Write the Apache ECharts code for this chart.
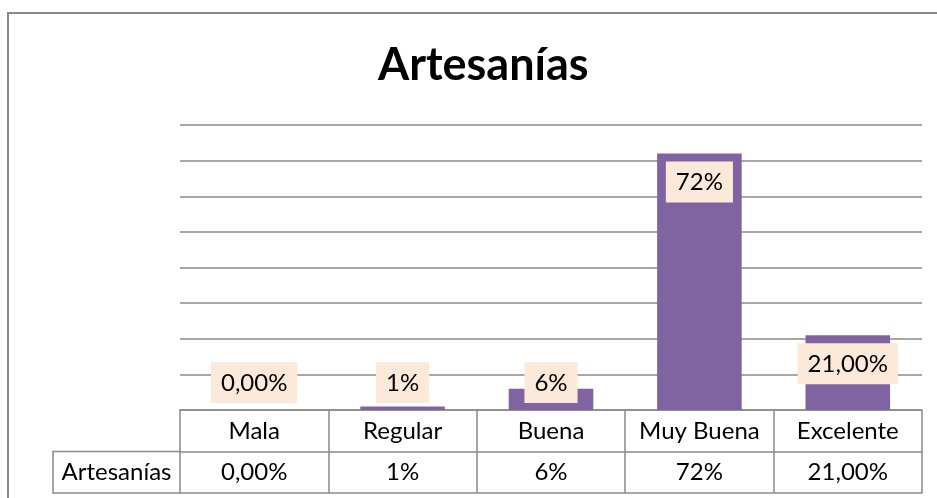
<!DOCTYPE html>
<html>
<head>
<meta charset="utf-8">
<script src="https://cdn.jsdelivr.net/npm/echarts@6/dist/echarts.min.js"></script>
<style>
  html, body { margin: 0; padding: 0; background: #fff; }
  #chart { width: 937px; height: 498px; }
</style>
</head>
<body>
<div id="chart"></div>
<script>
// datos
var categorias = ['Mala', 'Regular', 'Buena', 'Muy Buena', 'Excelente'];
var valores = [0, 1, 6, 72, 21];
var etiquetas = ['0,00%', '1%', '6%', '72%', '21,00%'];
var serieNombre = 'Artesanías';
var yTicks = [0, 10, 20, 30, 40, 50, 60, 70, 80];

var fuente = 'Lato';
var gris = '#8a8a8a';
var gridLeft = 180, gridRight = 15, gridTop = 125, gridBottom = 88;
var filaAlto = 41.5;
var celdaIzq = 53;

var myChart = echarts.init(document.getElementById('chart'), null, { renderer: 'canvas' });

// etiquetas pequeñas van abajo (no caben dentro de la barra)
var datos = valores.map(function (v) {
  var item = { value: v };
  if (v < 16) {
    item.label = { position: 'insideBottom', distance: 7 };
  }
  return item;
});

var baseY = 498 - gridBottom;

var option = {
  backgroundColor: '#fff',
  animation: false,
  title: {
    text: serieNombre,
    left: 373,
    top: 38,
    textStyle: { fontFamily: fuente, fontSize: 45, fontWeight: 'bold', color: '#000' }
  },
  grid: { left: gridLeft, right: gridRight, top: gridTop, bottom: gridBottom },
  xAxis: [
    {
      type: 'category',
      data: categorias,
      position: 'bottom',
      axisLine: { show: true, lineStyle: { color: gris, width: 1.5 } },
      axisTick: { show: true, interval: 0, length: filaAlto * 2, lineStyle: { color: gris, width: 1.5 } },
      axisLabel: { interval: 0, margin: 9, fontFamily: fuente, fontSize: 24, color: '#000' }
    },
    {
      type: 'category',
      data: categorias,
      position: 'bottom',
      offset: filaAlto,
      axisLine: { show: true, lineStyle: { color: gris, width: 1.5 } },
      axisTick: { show: false },
      axisLabel: {
        interval: 0, margin: 9, fontFamily: fuente, fontSize: 24, color: '#000',
        formatter: function (v, i) { return etiquetas[i]; }
      }
    },
    {
      type: 'category',
      data: categorias,
      position: 'bottom',
      offset: filaAlto * 2,
      axisLine: { show: true, lineStyle: { color: gris, width: 1.5 } },
      axisTick: { show: false },
      axisLabel: { show: false }
    }
  ],
  yAxis: {
    type: 'value',
    min: yTicks[0],
    max: yTicks[yTicks.length - 1],
    interval: 10,
    axisLine: { show: false },
    axisTick: { show: false },
    axisLabel: { show: false },
    splitLine: { show: true, lineStyle: { color: gris, width: 1.5 } }
  },
  series: [
    {
      name: serieNombre,
      type: 'bar',
      data: datos,
      barWidth: '57%',
      itemStyle: { color: '#8064a2' },
      label: {
        show: true,
        position: 'insideTop',
        distance: 8,
        formatter: function (p) { return etiquetas[p.dataIndex]; },
        fontFamily: fuente,
        fontSize: 24,
        color: '#000',
        backgroundColor: '#fde9d9',
        padding: [9, 10, 8, 10]
      }
    }
  ],
  graphic: [
    // borde del gráfico
    {
      type: 'rect',
      shape: { x: 8, y: 13, width: 960, height: 520 },
      style: { fill: 'none', stroke: gris, lineWidth: 2 },
      silent: true
    },
    // celda del nombre de la serie
    {
      type: 'polyline',
      shape: { points: [[gridLeft, baseY + filaAlto], [celdaIzq, baseY + filaAlto], [celdaIzq, baseY + filaAlto * 2], [gridLeft, baseY + filaAlto * 2]] },
      style: { fill: 'none', stroke: gris, lineWidth: 1.5 },
      silent: true
    },
    {
      type: 'text',
      x: (celdaIzq + gridLeft) / 2,
      y: baseY + filaAlto * 1.5,
      style: {
        text: serieNombre, fontFamily: fuente, fontSize: 24, fill: '#000',
        align: 'center', verticalAlign: 'middle'
      },
      silent: true
    }
  ]
};

myChart.setOption(option);
</script>
</body>
</html>
